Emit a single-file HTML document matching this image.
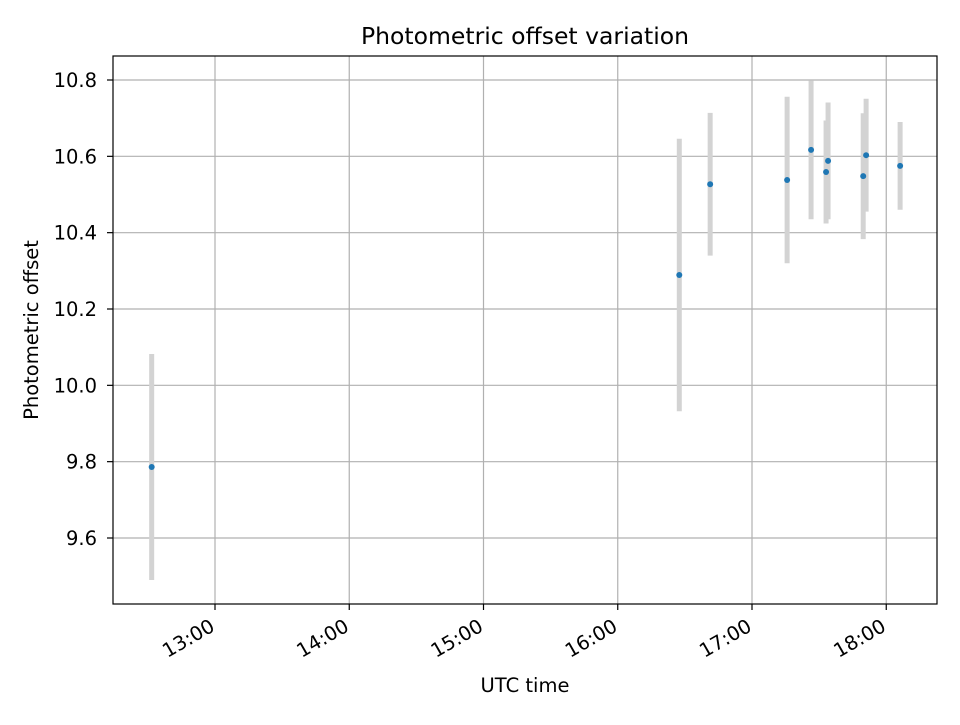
<!DOCTYPE html>
<html><head><meta charset="utf-8"><style>
body{margin:0;background:#fff;}
svg text{font-family:"DejaVu Sans","Liberation Sans",sans-serif;fill:#000;}
</style></head><body>
<svg id="chart" width="960" height="720" xmlns="http://www.w3.org/2000/svg">
<rect width="960" height="720" fill="#fff"/>
<g id="grid"></g><g id="bars"></g><g id="pts"></g>
<rect x="113" y="56" width="824" height="548" fill="none" stroke="#000" stroke-width="1.2"/>
<g id="axes"></g>
<text x="525" y="44" text-anchor="middle" font-size="23.5">Photometric offset variation</text>
<text x="525" y="692" text-anchor="middle" font-size="19.5">UTC time</text>
<text transform="translate(38,330) rotate(-90)" text-anchor="middle" font-size="19.5">Photometric offset</text>
</svg>
<script>
// times in minutes since 00:00 UTC
const times=[751.7,987.5,1001.3,1035.7,1046.4,1053.1,1054.0,1069.7,1071.0,1086.2];
const values=[9.786,10.289,10.527,10.538,10.617,10.559,10.588,10.548,10.603,10.575];
const errors=[0.296,0.357,0.187,0.218,0.182,0.135,0.153,0.165,0.148,0.115];
const xTicks=[780,840,900,960,1020,1080];
const xTickLabels=["13:00","14:00","15:00","16:00","17:00","18:00"];
const yTicks=[9.6,9.8,10.0,10.2,10.4,10.6,10.8];
const yTickLabels=["9.6","9.8","10.0","10.2","10.4","10.6","10.8"];
const NS="http://www.w3.org/2000/svg";
const L=113,R=937,T=56,B=604;
const x=m=>215+(m-780)*(134.25/60);
const y=v=>538-(v-9.6)*(458/1.2);
function mk(tag,attrs,parent){const e=document.createElementNS(NS,tag);for(const k in attrs)e.setAttribute(k,attrs[k]);document.getElementById(parent).appendChild(e);return e;}
xTicks.forEach((t,i)=>{
  const g=mk('line',{x1:x(t),x2:x(t),y1:T,y2:B,stroke:'#b0b0b0','stroke-width':1.2},'grid');
  
  
  const tk=mk('line',{x1:x(t),x2:x(t),y1:B,y2:B+6,stroke:'#000','stroke-width':1.2},'axes');
  
  
  const ax=x(t)+1, ay=B+26;
  const tx=mk('text',{x:ax,y:ay,'text-anchor':'end','font-size':19.5,transform:`rotate(-30 ${ax} ${ay})`},'axes');
  tx.textContent=xTickLabels[i];
  
  
});
yTicks.forEach((v,i)=>{
  const g=mk('line',{x1:L,x2:R,y1:y(v),y2:y(v),stroke:'#b0b0b0','stroke-width':1.2},'grid');
  
  
  const tk=mk('line',{x1:L-6,x2:L,y1:y(v),y2:y(v),stroke:'#000','stroke-width':1.2},'axes');
  
  
  const tx=mk('text',{x:L-16,y:y(v)+7,'text-anchor':'end','font-size':19.5},'axes');
  tx.textContent=yTickLabels[i];
  
  
});
times.forEach((t,i)=>{
  const b=mk('line',{x1:x(t),x2:x(t),y1:y(values[i]-errors[i]),y2:y(values[i]+errors[i]),stroke:'#d3d3d3','stroke-width':5},'bars');
  
  
  const p=mk('circle',{cx:x(t),cy:y(values[i]),r:3,fill:'#1f77b4'},'pts');
  
  
});
</script>
</body></html>
